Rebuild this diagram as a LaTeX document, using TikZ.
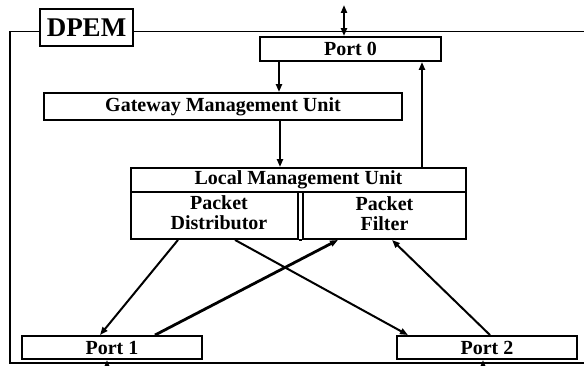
\documentclass[tikz,border=0pt]{standalone}
\usepackage{fontspec}
\setmainfont{Liberation Serif}
\usetikzlibrary{arrows.meta}
\begin{document}
\begin{tikzpicture}[x=1pt,y=-1pt,
  box/.style={draw,line width=1.9pt,rectangle,inner sep=0pt,fill=white,
    font=\fontsize{20}{20}\selectfont\bfseries,align=center},
  frame/.style={line width=1.8pt},
  arr/.style={line width=2pt,-{Triangle[length=8pt,width=6pt]}},
  arrb/.style={line width=2pt,{Triangle[length=8pt,width=6pt]}-{Triangle[length=8pt,width=6pt]}},
  thickarr/.style={arr,line width=2.8pt}]
\useasboundingbox (0,0) rectangle (584,366);
% outer frame
\draw[frame] (590,31.5) -- (10,31.5) -- (10,363) -- (590,363);
% nodes
\node[box,minimum width=93pt,minimum height=37pt,font=\fontsize{27}{27}\selectfont\bfseries] (dpem) at (86.5,27.5) {DPEM};
\node[box,minimum width=181pt,minimum height=24pt] (port0) at (350.5,49) {Port 0};
\node[box,minimum width=358pt,minimum height=27pt] (gmu) at (223,106.5) {Gateway Management Unit};
\node[box,minimum width=335pt,minimum height=24pt] (lmu) at (298.5,180) {Local Management Unit};
\node[box,minimum width=167pt,minimum height=47pt] (pd) at (214.5,215.5) {};
\node[box,minimum width=163pt,minimum height=47pt] (pf) at (384.5,215.5) {};
\node[font=\fontsize{20}{20}\selectfont\bfseries,align=center,inner sep=0pt] (pdt) at (219,213) {Packet\\Distributor};
\node[font=\fontsize{20}{20}\selectfont\bfseries,align=center,inner sep=0pt] (pft) at (384.5,214) {Packet\\Filter};
\draw[line width=1.9pt] (pd.south east) -- (pf.south west);
\node[box,minimum width=180pt,minimum height=23pt] (port1) at (112,347.5) {Port 1};
\node[box,minimum width=180pt,minimum height=23pt] (port2) at (487,347.5) {Port 2};
% free ends
\coordinate (ext0) at (344,5);
\coordinate (ext1) at (107,368);
\coordinate (ext2) at (483,368);
% connectors
\draw[arrb] (ext0) -- (ext0 |- port0.north);
\draw[arr] ([xshift=-71.5pt]port0.south) -- ([xshift=56pt]gmu.north);
\draw[arr] ([xshift=57pt]gmu.south) -- ([xshift=-18.5pt]lmu.north);
\draw[arr] ([xshift=123.5pt]lmu.north) -- ([xshift=71.5pt]port0.south);
\draw[arr] ([xshift=-36.5pt]pd.south) -- ([xshift=-12pt]port1.north);
\draw[arr] ([xshift=20.5pt]pd.south) -- ([xshift=-79pt]port2.north);
\draw[thickarr] ([xshift=43pt]port1.north) -- ([xshift=-46.5pt]pf.south);
\draw[arr] ([xshift=3pt]port2.north) -- ([xshift=7.5pt]pf.south);
\draw[arr] (ext1) -- (ext1 |- port1.south);
\draw[arr] (ext2) -- (ext2 |- port2.south);
\end{tikzpicture}
\end{document}
